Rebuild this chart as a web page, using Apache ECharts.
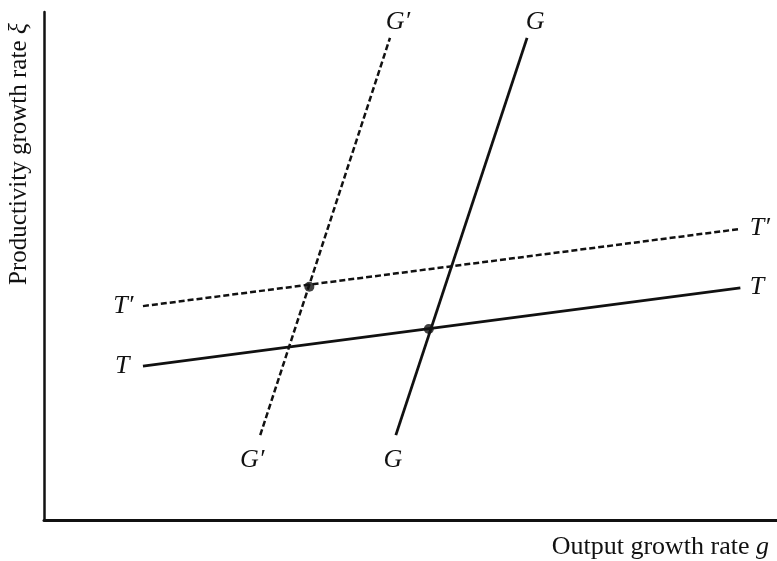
<!DOCTYPE html>
<html>
<head>
<meta charset="utf-8">
<script src="https://cdn.jsdelivr.net/npm/echarts@6/dist/echarts.min.js"></script>
<style>
  html, body { margin: 0; padding: 0; background: #fff; }
  #chart { width: 777px; height: 561px; }
</style>
</head>
<body>
<div id="chart"></div>
<script>
// schematic: endpoints of each schedule, in chart units (0-100)
const gPrimeLine = [[29.5, 16.7], [47.2, 94.9]];
const gLine = [[48.0, 16.7], [65.9, 94.9]];
const tPrimeLine = [[13.5, 42.1], [95.0, 57.3]];
const tLine = [[13.5, 30.3], [95.0, 45.7]];
const equilibria = [[36.2, 45.9], [52.5, 37.6]];

const lineLabels = {
  gPrime: ["G\u2032", "G\u2032"],
  g: ["G", "G"],
  tPrime: ["T\u2032", "T\u2032"],
  t: ["T", "T"]
};

const labelFont = {
  fontFamily: "Liberation Serif",
  fontStyle: "italic",
  fontSize: 26,
  color: "#111"
};

// bottom/left end gets first label, top/right end gets second
const withLabels = (pts, names, startPos, endPos) => pts.map((p, i) => ({
  value: p,
  label: Object.assign({
    show: true,
    formatter: names[i]
  }, labelFont, i === 0 ? startPos : endPos)
}));

const lineSeries = (name, pts, names, startPos, endPos, style) => ({
  name: name,
  type: "line",
  symbol: "circle",
  symbolSize: 1,
  itemStyle: { color: "rgba(0,0,0,0)" },
  lineStyle: style,
  emphasis: { disabled: true },
  data: withLabels(pts, names, startPos, endPos)
});

const myChart = echarts.init(document.getElementById("chart"));

const axisTitleRich = { i: { fontFamily: "Liberation Serif", fontStyle: "italic", fontSize: 26, fill: "#111" } };

const option = {
  animation: false,
  backgroundColor: "#fff",
  grid: { left: 44, right: 0, top: 12, bottom: 41 },
  xAxis: {
    type: "value",
    min: 0,
    max: 100,
    axisLine: { show: true, lineStyle: { color: "#111", width: 3 } },
    axisTick: { show: false },
    axisLabel: { show: false },
    splitLine: { show: false }
  },
  yAxis: {
    type: "value",
    min: 0,
    max: 100,
    axisLine: { show: true, lineStyle: { color: "#111", width: 2.5 } },
    axisTick: { show: false },
    axisLabel: { show: false },
    splitLine: { show: false }
  },
  graphic: [
    {
      type: "text",
      x: 19,
      y: 154,
      rotation: Math.PI / 2,
      style: {
        text: "Productivity growth rate {i|\u03be}",
        font: "25px 'Liberation Serif'",
        fill: "#111",
        textAlign: "center",
        textVerticalAlign: "middle",
        rich: axisTitleRich
      }
    },
    {
      type: "text",
      x: 769,
      y: 547,
      style: {
        text: "Output growth rate {i|g}",
        font: "26px 'Liberation Serif'",
        fill: "#111",
        textAlign: "right",
        textVerticalAlign: "middle",
        rich: axisTitleRich
      }
    }
  ],
  series: [
    lineSeries("G'", gPrimeLine, lineLabels.gPrime,
      { position: "bottom", offset: [-8, 7] },
      { position: "top", offset: [8, 3] },
      { color: "#111", width: 2.5, type: [6, 3] }),
    lineSeries("G", gLine, lineLabels.g,
      { position: "bottom", offset: [-3, 7] },
      { position: "top", offset: [8, 3] },
      { color: "#111", width: 2.8 }),
    lineSeries("T'", tPrimeLine, lineLabels.tPrime,
      { position: "left", offset: [-4, 0] },
      { position: "right", offset: [4, -1] },
      { color: "#111", width: 2.5, type: [6, 3] }),
    lineSeries("T", tLine, lineLabels.t,
      { position: "left", offset: [-8, 0] },
      { position: "right", offset: [4, -1] },
      { color: "#111", width: 2.8 }),
    {
      name: "equilibria",
      type: "scatter",
      symbolSize: 10,
      itemStyle: { color: "#111" },
      data: equilibria
    }
  ]
};

myChart.setOption(option);
</script>
</body>
</html>
